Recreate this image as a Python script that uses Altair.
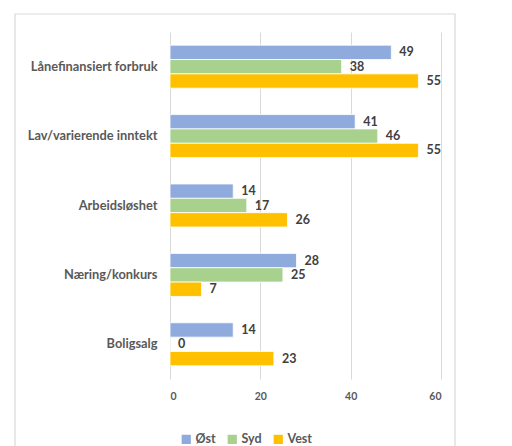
import altair as alt
import pandas as pd

categories = ["Lånefinansiert forbruk", "Lav/varierende inntekt", "Arbeidsløshet", "Næring/konkurs", "Boligsalg"]
series = ["Øst", "Syd", "Vest"]
ost = [49, 41, 14, 28, 14]
syd = [38, 46, 17, 25, 0]
vest = [55, 55, 26, 7, 23]
colors = ["#8FAADC", "#A9D18E", "#FFC000"]
ticks = [0, 20, 40, 60]

rows = []
for i, c in enumerate(categories):
    for s, vals in zip(series, [ost, syd, vest]):
        rows.append({"kategori": c, "region": s, "verdi": vals[i]})
df = pd.DataFrame(rows)

FONT = "Lato"

y = alt.Y("kategori:N", sort=categories, title=None,
          scale=alt.Scale(paddingInner=0.38, paddingOuter=0.19),
          axis=alt.Axis(domain=False, ticks=False, labelPadding=13, labelFontSize=12.8,
                        labelFontWeight="bold", labelColor="#595959", labelFont=FONT))
x = alt.X("verdi:Q", title=None,
          scale=alt.Scale(domain=[0, 60], nice=False),
          axis=alt.Axis(values=ticks, domain=False, ticks=False, grid=True, gridColor="#D9D9D9",
                        labelPadding=12, labelFontSize=10.5, labelFontWeight="bold",
                        labelColor="#595959", labelFont=FONT))
yoff = alt.YOffset("region:N", sort=series, scale=alt.Scale(paddingInner=0, paddingOuter=0))

base = alt.Chart(df)

frame = alt.Chart(pd.DataFrame({"a": [0]})).mark_rect(
    fill="transparent", stroke="#D9D9D9", strokeWidth=1.2
).encode(x=alt.value(-155), x2=alt.value(285), y=alt.value(-18), y2=alt.value(470))

bars = base.mark_bar(stroke="white", strokeWidth=0.8).encode(
    y=y, x=x, yOffset=yoff,
    color=alt.Color("region:N", sort=series,
                    scale=alt.Scale(domain=series, range=colors),
                    legend=alt.Legend(title=None, orient="none", legendX=10, legendY=401,
                                      direction="horizontal", symbolType="square",
                                      symbolSize=85, symbolStrokeWidth=0,
                                      labelFontSize=12.5, labelFont=FONT,
                                      labelFontWeight="bold", labelColor="#595959",
                                      labelOffset=3, columnPadding=10))
)

labels = base.mark_text(align="left", baseline="middle", dx=8, fontSize=12.5,
                        fontWeight="bold", color="#404040", font=FONT).encode(
    y=alt.Y("kategori:N", sort=categories), x=alt.X("verdi:Q"), yOffset=yoff,
    text=alt.Text("verdi:Q")
)

chart = alt.layer(bars, labels, frame).properties(
    width=271, height=347,
    autosize=alt.AutoSizeParams(type="none"),
    padding={"left": 170, "top": 32, "right": 71, "bottom": 67},
    background="white"
).configure_view(stroke=None)

chart.save("out.html", embed_options={"renderer": "svg", "actions": False})
